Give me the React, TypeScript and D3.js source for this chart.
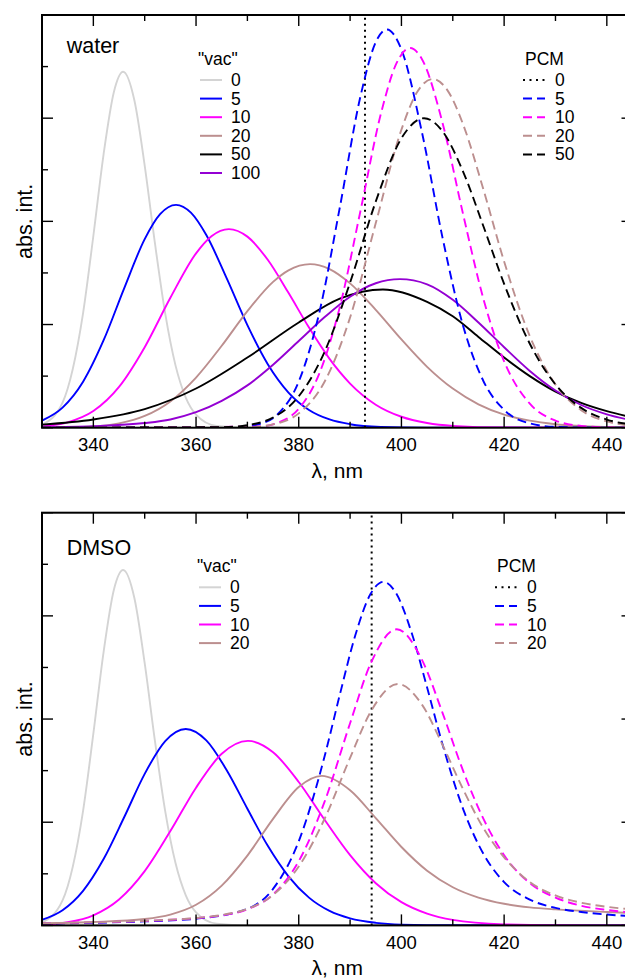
import React from 'react';
import * as d3 from 'd3';

type Pt = [number, number];

// ---- water panel, "vac" spectra (wavelength nm, abs. int.)
const waterVac0: Pt[] = [[330, 0.026], [334, 0.243], [338, 1.111], [340, 1.858], [342, 2.652], [344, 3.254], [345.8, 3.45], [348, 3.171], [350, 2.541], [352, 1.786], [354, 1.105], [356, 0.604], [358, 0.292], [360, 0.127], [364, 0.017], [370, 0], [445, 0]];
const waterVac5: Pt[] = [[330, 0.069], [334, 0.195], [338, 0.446], [342, 0.848], [346, 1.351], [350, 1.828], [353, 2.07], [356.1, 2.16], [359, 2.084], [362, 1.867], [366, 1.444], [370, 0.994], [374, 0.613], [378, 0.341], [382, 0.172], [386, 0.08], [390, 0.034], [396, 0.008], [405, 0], [445, 0]];
const waterVac10: Pt[] = [[330, 0.013], [335, 0.052], [340, 0.161], [345, 0.395], [350, 0.78], [355, 1.259], [360, 1.69], [363, 1.856], [366.4, 1.925], [370, 1.852], [374, 1.625], [378, 1.307], [382, 0.97], [386, 0.667], [390, 0.428], [395, 0.223], [400, 0.106], [405, 0.046], [410, 0.018], [420, 0.002], [445, 0]];
const waterVac20: Pt[] = [[330, 0.001], [340, 0.013], [345, 0.042], [350, 0.114], [355, 0.255], [360, 0.486], [365, 0.794], [370, 1.13], [375, 1.413], [378, 1.525], [382.2, 1.585], [386, 1.538], [390, 1.399], [395, 1.142], [400, 0.855], [405, 0.59], [410, 0.379], [415, 0.227], [420, 0.127], [425, 0.068], [430, 0.034], [440, 0.007], [445, 0.003]];
const waterVac50: Pt[] = [[330, 0.03], [340, 0.08], [350, 0.18], [360, 0.38], [370, 0.68], [380, 1.02], [388, 1.25], [396.4, 1.34], [405, 1.22], [410, 1.08], [415, 0.88], [420, 0.68], [425, 0.5], [430, 0.35], [435, 0.24], [440, 0.16], [445, 0.1]];
const waterVac100: Pt[] = [[330, 0.005], [340, 0.015], [350, 0.045], [355, 0.08], [360, 0.15], [365, 0.26], [370, 0.41], [375, 0.61], [380, 0.84], [385, 1.07], [390, 1.27], [395, 1.4], [399.7, 1.44], [405, 1.39], [410, 1.24], [415, 1.02], [420, 0.78], [425, 0.55], [430, 0.36], [435, 0.22], [440, 0.13], [445, 0.07]];

// ---- water panel, PCM spectra
const waterPcm0 = 392.9;
const waterPcm5: Pt[] = [[330, 0], [368, 0.005], [372, 0.031], [376, 0.135], [380, 0.447], [384, 1.114], [388, 2.135], [392, 3.207], [395, 3.737], [397.2, 3.86], [400, 3.665], [404, 2.862], [408, 1.842], [412, 0.989], [416, 0.448], [420, 0.173], [425, 0.042], [430, 0.008], [440, 0], [445, 0]];
const waterPcm10: Pt[] = [[330, 0], [372, 0.011], [376, 0.05], [380, 0.184], [384, 0.524], [388, 1.17], [392, 2.096], [396, 3.043], [399, 3.528], [401.7, 3.68], [404, 3.572], [408, 2.955], [412, 2.071], [416, 1.242], [420, 0.643], [425, 0.233], [430, 0.069], [435, 0.017], [440, 0.003], [445, 0]];
const waterPcm20: Pt[] = [[330, 0], [370, 0.005], [375, 0.032], [380, 0.139], [385, 0.443], [390, 1.068], [395, 1.983], [400, 2.889], [403, 3.248], [406.1, 3.38], [409, 3.267], [412, 2.941], [416, 2.303], [420, 1.61], [425, 0.887], [430, 0.418], [435, 0.17], [440, 0.061], [445, 0.019]];
const waterPcm50: Pt[] = [[330, 0], [365, 0.005], [370, 0.025], [375, 0.099], [380, 0.304], [385, 0.732], [390, 1.407], [395, 2.192], [400, 2.805], [404.4, 3.0], [408, 2.873], [412, 2.483], [416, 1.948], [420, 1.394], [425, 0.814], [430, 0.419], [435, 0.192], [440, 0.079], [445, 0.03]];

// ---- DMSO panel, "vac" spectra
const dmsoVac0: Pt[] = [[330, 0.026], [334, 0.243], [338, 1.111], [340, 1.858], [342, 2.652], [344, 3.254], [345.8, 3.445], [348, 3.171], [350, 2.541], [352, 1.786], [354, 1.105], [356, 0.604], [358, 0.292], [360, 0.127], [364, 0.017], [370, 0], [445, 0]];
const dmsoVac5: Pt[] = [[330, 0.054], [334, 0.147], [338, 0.335], [342, 0.643], [346, 1.048], [350, 1.469], [354, 1.787], [358, 1.904], [362, 1.793], [366, 1.502], [370, 1.131], [374, 0.769], [378, 0.476], [382, 0.269], [386, 0.14], [390, 0.068], [395, 0.025], [400, 0.008], [410, 0.001], [445, 0]];
const dmsoVac10: Pt[] = [[330, 0.007], [335, 0.03], [340, 0.098], [345, 0.251], [350, 0.526], [355, 0.914], [360, 1.335], [365, 1.663], [370.1, 1.788], [375, 1.678], [380, 1.39], [385, 1.026], [390, 0.681], [395, 0.409], [400, 0.225], [405, 0.114], [410, 0.053], [420, 0.01], [430, 0.001], [445, 0]];
const dmsoVac20: Pt[] = [[330, 0.021], [340, 0.033], [350, 0.062], [355, 0.105], [360, 0.2], [365, 0.386], [370, 0.677], [375, 1.033], [380, 1.341], [384.5, 1.449], [390, 1.31], [395, 1.04], [400, 0.76], [405, 0.53], [410, 0.37], [415, 0.27], [420, 0.21], [425, 0.175], [430, 0.155], [440, 0.13], [445, 0.12]];

// ---- DMSO panel, PCM spectra
const dmsoPcm0 = 394.2;
const dmsoPcm5: Pt[] = [[330, 0.017], [340, 0.025], [350, 0.039], [360, 0.065], [370, 0.161], [375, 0.354], [380, 0.815], [385, 1.632], [388, 2.236], [391, 2.809], [394, 3.214], [396.5, 3.33], [399, 3.216], [402, 2.834], [405, 2.305], [408, 1.755], [412, 1.13], [416, 0.69], [420, 0.42], [425, 0.25], [430, 0.17], [435, 0.13], [440, 0.105], [445, 0.09]];
const dmsoPcm10: Pt[] = [[330, 0.02], [340, 0.029], [350, 0.043], [360, 0.07], [365, 0.097], [370, 0.156], [375, 0.3], [380, 0.622], [385, 1.194], [390, 1.96], [394, 2.537], [399.1, 2.87], [404, 2.574], [408, 2.06], [412, 1.5], [416, 1.03], [420, 0.68], [425, 0.41], [430, 0.27], [435, 0.19], [440, 0.15], [445, 0.125]];
const dmsoPcm20: Pt[] = [[330, 0.021], [340, 0.03], [350, 0.045], [360, 0.072], [365, 0.101], [370, 0.16], [375, 0.295], [380, 0.57], [385, 1.029], [390, 1.624], [394, 2.07], [399.3, 2.34], [404, 2.14], [408, 1.75], [412, 1.32], [416, 0.94], [420, 0.66], [425, 0.42], [430, 0.29], [435, 0.22], [440, 0.18], [445, 0.155]];

const vacLabelsWater = ['0', '5', '10', '20', '50', '100'];
const pcmLabelsWater = ['0', '5', '10', '20', '50'];
const vacLabelsDmso = ['0', '5', '10', '20'];
const pcmLabelsDmso = ['0', '5', '10', '20'];

const colors: Record<string, string> = {
  '0': '#d4d4d4',
  '5': '#0000ff',
  '10': '#ff00ff',
  '20': '#bc8f8f',
  '50': '#000000',
  '100': '#9400d3',
};

const W = 625;
const H = 980;
const FONT = '"Liberation Sans", Arial, Helvetica, sans-serif';

const x = d3.scaleLinear().domain([330, 445]).range([42, 632.5]);

interface PanelProps {
  top: number;
  name: string;
  nameY: number;
  vac: Pt[][];
  vacLabels: string[];
  pcm: Pt[][];
  pcmLabels: string[];
  pcm0: number;
  vacLeg: { x: number; y: number };
  pcmLeg: { x: number; y: number };
  id: string;
}

function Panel(p: PanelProps) {
  const height = 412.7;
  const y = d3.scaleLinear().domain([0, 4]).range([p.top + height, p.top]);
  const line = d3
    .line<Pt>()
    .x((d) => x(d[0]))
    .y((d) => y(d[1]))
    .curve(d3.curveMonotoneX);
  const [x0, x1] = x.range();
  const [y0, y1] = y.range();
  const xt = x.ticks(12);
  const yt = y.ticks(8);
  const step = 18.6;

  return (
    <g>
      <defs>
        <clipPath id={`clip-${p.id}`}>
          <rect x={x0} y={y1} width={x1 - x0} height={y0 - y1} />
        </clipPath>
      </defs>
      <g clipPath={`url(#clip-${p.id})`} fill="none" strokeWidth={1.9}>
        {p.vac.map((s, i) => (
          <path key={'v' + i} d={line(s) || ''} stroke={colors[p.vacLabels[i]]} />
        ))}
        <line x1={x(p.pcm0)} x2={x(p.pcm0)} y1={y0} y2={y1} stroke="#000" strokeDasharray="2,4" strokeWidth={2} />
        {p.pcm.map((s, i) => (
          <path key={'p' + i} d={line(s) || ''} stroke={colors[p.pcmLabels[i + 1]]} strokeDasharray="9,5" />
        ))}
      </g>
      {/* ticks */}
      <g stroke="#000" strokeWidth={1.4}>
        {xt.map((t) => {
          const len = t % 20 === 0 ? 11 : 6;
          return (
            <g key={'xt' + t}>
              <line x1={x(t)} x2={x(t)} y1={y0} y2={y0 - len} />
              <line x1={x(t)} x2={x(t)} y1={y1} y2={y1 + len} />
            </g>
          );
        })}
        {yt.map((t) => {
          const len = Number.isInteger(t) ? 11 : 6;
          return (
            <g key={'yt' + t}>
              <line x1={x0} x2={x0 + len} y1={y(t)} y2={y(t)} />
              <line x1={x1} x2={x1 - len} y1={y(t)} y2={y(t)} />
            </g>
          );
        })}
      </g>
      <rect x={x0} y={y1} width={x1 - x0} height={y0 - y1} fill="none" stroke="#000" strokeWidth={2} />
      <g fontFamily={FONT} fontSize={18.5} textAnchor="middle">
        {xt
          .filter((t) => t % 20 === 0)
          .map((t) => (
            <text key={'xl' + t} x={x(t)} y={y0 + 23.3}>
              {t}
            </text>
          ))}
      </g>
      <text x={(x0 + x1) / 2} y={y0 + 50} fontFamily={FONT} fontSize={21} textAnchor="middle">
        λ, nm
      </text>
      <text
        transform={`translate(32,${(y0 + y1) / 2}) rotate(-90)`}
        fontFamily={FONT}
        fontSize={21.5}
        textAnchor="middle"
      >
        abs. int.
      </text>
      <text x={66.7} y={p.nameY} fontFamily={FONT} fontSize={21.5}>
        {p.name}
      </text>
      {/* legends */}
      <g fontFamily={FONT} fontSize={17.5}>
        <text x={p.vacLeg.x - 2} y={p.vacLeg.y - 15}>"vac"</text>
        {p.vacLabels.map((l, i) => (
          <g key={'lv' + l}>
            <line x1={p.vacLeg.x} x2={p.vacLeg.x + 22} y1={p.vacLeg.y + i * step} y2={p.vacLeg.y + i * step} stroke={colors[l]} strokeWidth={2} />
            <text x={p.vacLeg.x + 31} y={p.vacLeg.y + i * step + 6}>{l}</text>
          </g>
        ))}
        <text x={p.pcmLeg.x + 2} y={p.pcmLeg.y - 15}>PCM</text>
        {p.pcmLabels.map((l, i) => (
          <g key={'lp' + l}>
            <line
              x1={p.pcmLeg.x}
              x2={p.pcmLeg.x + 22}
              y1={p.pcmLeg.y + i * step}
              y2={p.pcmLeg.y + i * step}
              stroke={i === 0 ? '#000' : colors[l]}
              strokeWidth={2}
              strokeDasharray={i === 0 ? '2,4.5' : '9,5'}
            />
            <text x={p.pcmLeg.x + 32} y={p.pcmLeg.y + i * step + 6}>{l}</text>
          </g>
        ))}
      </g>
    </g>
  );
}

export default function App() {
  return (
    <svg width={W} height={H} style={{ position: 'absolute', left: 0, top: 0, background: '#fff' }}>
      <rect width={W} height={H} fill="#fff" />
      <Panel
        id="water"
        top={15}
        name="water"
        nameY={52.7}
        vac={[waterVac0, waterVac5, waterVac10, waterVac20, waterVac50, waterVac100]}
        vacLabels={vacLabelsWater}
        pcm={[waterPcm5, waterPcm10, waterPcm20, waterPcm50]}
        pcmLabels={pcmLabelsWater}
        pcm0={waterPcm0}
        vacLeg={{ x: 200, y: 80 }}
        pcmLeg={{ x: 523, y: 80 }}
      />
      <Panel
        id="dmso"
        top={512.7}
        name="DMSO"
        nameY={555}
        vac={[dmsoVac0, dmsoVac5, dmsoVac10, dmsoVac20]}
        vacLabels={vacLabelsDmso}
        pcm={[dmsoPcm5, dmsoPcm10, dmsoPcm20]}
        pcmLabels={pcmLabelsDmso}
        pcm0={dmsoPcm0}
        vacLeg={{ x: 199, y: 587.3 }}
        pcmLeg={{ x: 495, y: 587.3 }}
      />
    </svg>
  );
}
